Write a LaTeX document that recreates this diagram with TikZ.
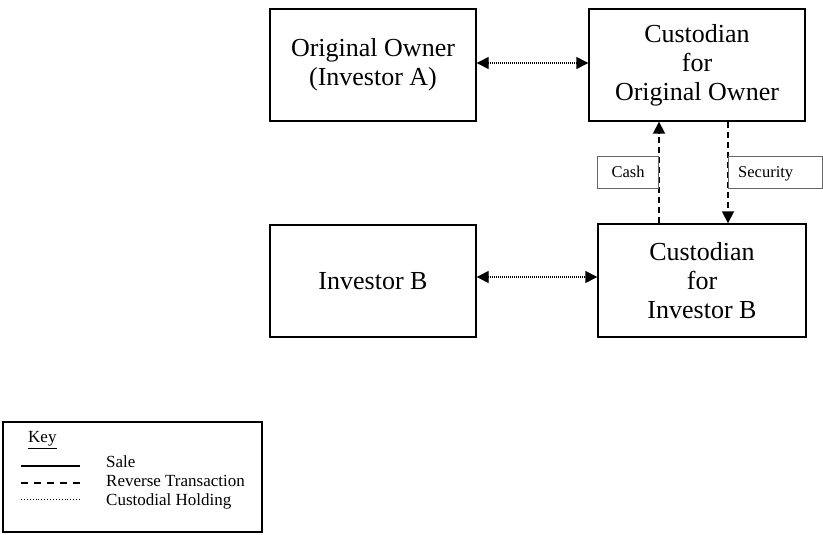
\documentclass[tikz,border=0pt]{standalone}
\usepackage{fontspec}
\setmainfont{Liberation Serif}
\usetikzlibrary{arrows.meta}
\begin{document}
\begin{tikzpicture}[x=1pt,y=-1pt,
  bigbox/.style={draw, line width=1.4pt, align=center, inner sep=0pt,
    font=\fontsize{26}{29}\selectfont},
  lblbox/.style={draw=black!60, line width=0.8pt, inner sep=0pt, minimum height=32pt},
  lbltext/.style={inner sep=0pt, font=\fontsize{16.5}{18}\selectfont},
  custline/.style={line width=1.4pt, dash pattern=on 1pt off 1pt, {Triangle[length=12pt,width=12pt]}-{Triangle[length=12pt,width=12pt]}},
  revline/.style={line width=1.8pt, dash pattern=on 6pt off 4pt, -{Triangle[length=12pt,width=12pt]}},
  keytext/.style={anchor=west, inner sep=0pt, font=\fontsize{17}{19}\selectfont}
]
\useasboundingbox (0,0) rectangle (823,535);
\fill[white] (0,0) rectangle (823,535);

\node[bigbox, minimum width=206pt, minimum height=112pt] (oo) at (373,65) {Original Owner\\(Investor A)};
\node[bigbox, minimum width=216pt, minimum height=112pt] (coo) at (697,65) {Custodian\\for\\Original Owner};
\node[bigbox, minimum width=206pt, minimum height=112pt] (ib) at (373,281) {Investor B};
\node[bigbox, minimum width=208pt, minimum height=113pt] (cib) at (702,280.5) {Custodian\\for\\Investor B};

\draw[custline] (oo.east |- 0,63) -- (coo.west |- 0,63);
\draw[custline] (ib.east |- 0,277) -- (cib.west |- 0,277);

\coordinate (cashb) at (659,0);
\coordinate (secb) at (728,0);
\draw[revline] (cib.north -| cashb) -- (coo.south -| cashb);
\draw[revline] (coo.south -| secb) -- (cib.north -| secb);

\node[lblbox, minimum width=61pt, anchor=east] (cash) at (659,172) {};
\node[lbltext] (casht) at ([yshift=-2pt]cash.center) {\strut Cash};
\node[lblbox, minimum width=94pt, anchor=west] (sec) at (728,172) {};
\node[lbltext, anchor=west] (sect) at (738,174) {\strut Security};

% key
\node[draw, line width=1.2pt, minimum width=259pt, minimum height=110pt, inner sep=0pt] (key) at (132.5,477) {};
\node[keytext] (keyt) at (28,440) {\underline{Key}};
\coordinate (k1a) at (21,466); \coordinate (k1b) at (80,466);
\coordinate (k2a) at (21,483); \coordinate (k2b) at (80,483);
\coordinate (k3a) at (21,499); \coordinate (k3b) at (80,499);
\draw[line width=1.4pt] (k1a) -- (k1b);
\draw[line width=1.4pt, dash pattern=on 7pt off 6pt] (k2a) -- (k2b);
\draw[line width=0.9pt, dotted] (k3a) -- (k3b);
\node[keytext] (ksale) at (106,462) {Sale};
\node[keytext] (krev) at (106,481) {Reverse Transaction};
\node[keytext] (kcust) at (106,501) {Custodial Holding};
\end{tikzpicture}
\end{document}
